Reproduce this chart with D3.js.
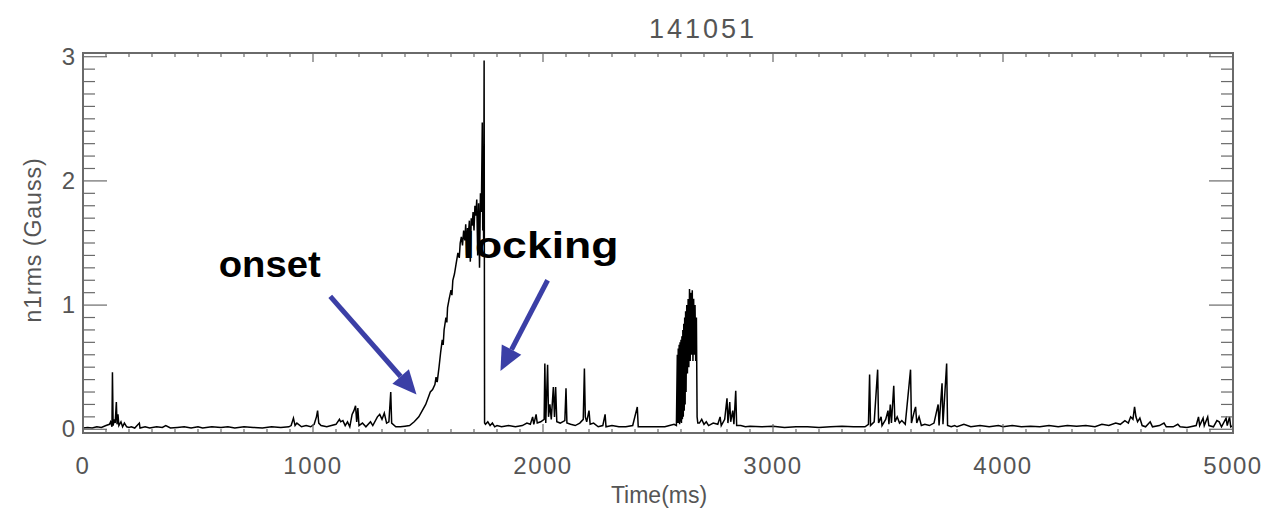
<!DOCTYPE html>
<html><head><meta charset="utf-8">
<script src="https://cdn.jsdelivr.net/npm/d3@7/dist/d3.min.js"></script>
<style>body{margin:0;background:#fff;} svg{display:block;}</style>
</head><body>
<svg id="c" width="1268" height="516"></svg>
<script>
const title = "141051";
const xLabel = "Time(ms)";
const yLabel = "n1rms (Gauss)";
const xTicks = [0, 1000, 2000, 3000, 4000, 5000];
const yTicks = [0, 1, 2, 3];

// [time ms, n1rms Gauss]
const segEarly = [[0,0.01],[20,0.015],[40,0.01],[60,0.02],[80,0.015],[100,0.03],[115,0.04],[120,0.06],[126,0.02],[128,0.46],[131,0.03],[135,0.08],[140,0.05],[145,0.22],[148,0.04],[152,0.12],[156,0.03],[165,0.06],[172,0.02],[180,0.05],[190,0.02],[200,0.015],[210,0.02],[225,0.01],[245,0.05],[248,0.01],[270,0.02],[290,0.01],[320,0.02],[345,0.015],[360,0.03],[380,0.01],[410,0.015],[440,0.02],[470,0.01],[500,0.02],[520,0.01],[560,0.02],[600,0.015],[630,0.02],[660,0.01],[700,0.02],[740,0.015],[780,0.01],[820,0.02],[860,0.015],[895,0.02],[905,0.03],[915,0.09],[922,0.03],[930,0.05],[950,0.02],[970,0.03],[990,0.02],[1005,0.04],[1015,0.1],[1020,0.15],[1025,0.05],[1035,0.03],[1060,0.02],[1080,0.03],[1100,0.04],[1115,0.08],[1120,0.06],[1130,0.07],[1140,0.03],[1150,0.06],[1160,0.02],[1170,0.12],[1178,0.15],[1185,0.19],[1190,0.06],[1195,0.17],[1200,0.03],[1215,0.05],[1230,0.02],[1250,0.06],[1260,0.03],[1280,0.1],[1290,0.12],[1300,0.08],[1310,0.13],[1320,0.05],[1330,0.06],[1338,0.3],[1342,0.05],[1360,0.02],[1380,0.02],[1400,0.025],[1420,0.03]];
const segOnset = [[1440,0.06],[1460,0.1],[1475,0.15],[1490,0.2],[1500,0.25],[1510,0.3],[1520,0.32],[1530,0.36],[1535,0.42],[1540,0.38],[1548,0.5],[1555,0.62],[1562,0.72],[1566,0.68],[1570,0.8],[1578,0.9],[1582,0.86],[1585,0.98],[1592,1.05],[1600,1.12],[1604,1.08],[1608,1.2],[1615,1.25],[1622,1.33],[1630,1.42],[1636,1.38],[1640,1.5],[1645,1.55],[1650,1.48],[1655,1.6],[1660,1.52],[1664,1.65],[1668,1.4],[1672,1.62],[1676,1.58],[1680,1.68],[1684,1.35],[1688,1.7],[1692,1.64],[1696,1.75],[1700,1.6],[1704,1.8],[1708,1.72],[1712,1.85],[1716,1.4],[1720,1.82],[1724,1.3],[1728,1.9],[1732,1.75],[1736,2.47],[1738,1.6],[1740,1.9],[1742,1.5],[1744,2.97],[1746,0.05]];
const segLocked = [[1750,0.04],[1760,0.06],[1770,0.03],[1780,0.05],[1790,0.02],[1800,0.03],[1820,0.02],[1850,0.03],[1880,0.02],[1910,0.03],[1930,0.05],[1945,0.04],[1955,0.1],[1960,0.04],[1970,0.12],[1975,0.05],[1990,0.06],[2005,0.08],[2008,0.53],[2012,0.05],[2020,0.52],[2024,0.1],[2030,0.2],[2036,0.08],[2045,0.34],[2050,0.1],[2055,0.34],[2060,0.06],[2075,0.05],[2095,0.07],[2100,0.33],[2104,0.05],[2120,0.04],[2140,0.03],[2160,0.05],[2175,0.08],[2180,0.49],[2184,0.1],[2190,0.06],[2200,0.15],[2205,0.04],[2220,0.05],[2240,0.02],[2260,0.03],[2270,0.12],[2274,0.02],[2300,0.03],[2330,0.02],[2360,0.02],[2390,0.03],[2410,0.18],[2414,0.02],[2440,0.02],[2470,0.02],[2500,0.02],[2530,0.02],[2550,0.03],[2570,0.04]];
const segHump = [[2580,0.03],[2584,0.6],[2586,0.05],[2588,0.65],[2590,0.05],[2592,0.68],[2594,0.04],[2596,0.7],[2598,0.06],[2600,0.72],[2602,0.05],[2604,0.75],[2606,0.08],[2608,0.8],[2610,0.1],[2612,0.85],[2614,0.15],[2616,0.9],[2618,0.2],[2620,0.95],[2622,0.3],[2625,1.0],[2628,0.45],[2631,1.05],[2634,0.5],[2637,1.13],[2640,0.55],[2643,1.1],[2646,0.6],[2649,1.12],[2652,0.55],[2655,1.05],[2658,0.6],[2661,1.0],[2664,0.55],[2667,0.9],[2670,0.1],[2673,0.05]];
const segLate = [[2680,0.05],[2690,0.08],[2700,0.04],[2710,0.06],[2720,0.03],[2740,0.05],[2760,0.04],[2770,0.1],[2775,0.03],[2790,0.08],[2800,0.25],[2804,0.05],[2812,0.22],[2816,0.06],[2825,0.15],[2830,0.04],[2838,0.31],[2842,0.03],[2860,0.03],[2880,0.02],[2900,0.025],[2950,0.02],[3000,0.025],[3050,0.015],[3100,0.02],[3150,0.02],[3200,0.015],[3250,0.02],[3300,0.025],[3350,0.02],[3400,0.02],[3415,0.04],[3420,0.44],[3424,0.03],[3440,0.06],[3455,0.48],[3459,0.05],[3470,0.1],[3474,0.03],[3490,0.08],[3500,0.15],[3504,0.04],[3510,0.2],[3515,0.05],[3525,0.35],[3530,0.06],[3540,0.1],[3550,0.05],[3560,0.07],[3575,0.04],[3598,0.48],[3602,0.05],[3615,0.15],[3620,0.18],[3625,0.05],[3635,0.1],[3645,0.03],[3660,0.04],[3680,0.03],[3700,0.05],[3718,0.2],[3722,0.03],[3735,0.37],[3739,0.04],[3755,0.53],[3759,0.03],[3775,0.02],[3790,0.03],[3800,0.02],[3830,0.04],[3860,0.02],[3900,0.03],[3940,0.02],[3980,0.03],[4000,0.02],[4040,0.03],[4080,0.02],[4120,0.025],[4160,0.02],[4200,0.03],[4240,0.02],[4280,0.03],[4320,0.025],[4360,0.03],[4400,0.02],[4430,0.04],[4460,0.03],[4490,0.05],[4510,0.04],[4530,0.07],[4545,0.05],[4555,0.1],[4565,0.08],[4572,0.18],[4578,0.1],[4585,0.06],[4595,0.09],[4605,0.03],[4620,0.02],[4640,0.06],[4650,0.02],[4680,0.03],[4700,0.05],[4710,0.02],[4740,0.02],[4760,0.04],[4770,0.02],[4800,0.015],[4840,0.03],[4850,0.1],[4855,0.03],[4870,0.09],[4875,0.03],[4890,0.1],[4895,0.03],[4915,0.02],[4930,0.07],[4940,0.06],[4950,0.02],[4970,0.09],[4975,0.03],[4985,0.1],[4990,0.02],[5000,0.03]];

const annotations = [
  {text: "onset", t: 590, v: 1.23, tipT: 1450, tipV: 0.28, tailT: 1075, tailV: 1.07},
  {text: "locking", t: 1650, v: 1.38, tipT: 1815, tipV: 0.47, tailT: 2020, tailV: 1.2}
];

const data = [].concat(segEarly, segOnset, segLocked, segHump, segLate);

const L = 83, R = 1233, T = 53, B = 433;
const x = d3.scaleLinear().domain([0, 5000]).range([L, R]);
const y = d3.scaleLinear().domain([-0.03, 3.03]).range([B, T]);
const svg = d3.select("#c");
const gray = "#6a6a6a";
const font = "'Liberation Sans', Arial, sans-serif";

// annotations text (behind the line)
svg.selectAll("text.ann").data(annotations).enter().append("text")
  .attr("class", "ann")
  .attr("x", d => x(d.t)).attr("y", d => y(d.v))
  .attr("font-family", font).attr("font-weight", "bold")
  .attr("font-size", 37).attr("fill", "#000")
  .attr("textLength", (d, i) => i === 0 ? 102 : 156).attr("lengthAdjust", "spacingAndGlyphs")
  .text(d => d.text);

// data line
svg.append("clipPath").attr("id", "clip").append("rect")
  .attr("x", L).attr("y", T).attr("width", R - L).attr("height", B - T);
svg.append("path").datum(data)
  .attr("clip-path", "url(#clip)")
  .attr("fill", "none").attr("stroke", "#000").attr("stroke-width", 1.5)
  .attr("stroke-linejoin", "miter")
  .attr("d", d3.line().x(d => x(d[0])).y(d => y(d[1])));

// arrows
const blue = "#3b3fa6";
annotations.forEach(a => {
  const x1 = x(a.tailT), y1 = y(a.tailV), x2 = x(a.tipT), y2 = y(a.tipV);
  const ang = Math.atan2(y2 - y1, x2 - x1);
  const hl = 24, hw = 11;
  const bx = x2 - hl * Math.cos(ang), by = y2 - hl * Math.sin(ang);
  svg.append("line").attr("x1", x1).attr("y1", y1).attr("x2", bx).attr("y2", by)
    .attr("stroke", blue).attr("stroke-width", 5);
  const px = -Math.sin(ang), py = Math.cos(ang);
  svg.append("path")
    .attr("d", `M${x2},${y2}L${bx + px * hw},${by + py * hw}L${bx - px * hw},${by - py * hw}Z`)
    .attr("fill", blue);
});

// frame
svg.append("rect").attr("x", L).attr("y", T).attr("width", R - L).attr("height", B - T)
  .attr("fill", "none").attr("stroke", gray).attr("stroke-width", 2);

// x ticks (bottom and top)
const xMinor = d3.range(0, 5001, 100);
[B, T].forEach((yy, k) => {
  const dir = k === 0 ? -1 : 1;
  svg.append("g").selectAll("line").data(xMinor).enter().append("line")
    .attr("x1", d => x(d)).attr("x2", d => x(d))
    .attr("y1", yy).attr("y2", d => yy + dir * (d % 1000 === 0 ? 9 : 4))
    .attr("stroke", gray).attr("stroke-width", 1.2);
});
// y ticks (left and right)
const yMinor = d3.range(0, 31).map(i => i / 10);
[L, R].forEach((xx, k) => {
  const dir = k === 0 ? 1 : -1;
  svg.append("g").selectAll("line").data(yMinor).enter().append("line")
    .attr("y1", d => y(d)).attr("y2", d => y(d))
    .attr("x1", xx).attr("x2", d => xx + dir * (Math.abs(d - Math.round(d)) < 1e-6 ? 24 : 12))
    .attr("stroke", gray).attr("stroke-width", 1.2);
});

// tick labels
svg.append("g").selectAll("text").data(xTicks).enter().append("text")
  .attr("x", d => x(d)).attr("y", 474)
  .attr("text-anchor", "middle").attr("font-family", font).attr("font-size", 24)
  .attr("letter-spacing", 1.5).attr("fill", "#555").text(d => d);
svg.append("g").selectAll("text").data(yTicks).enter().append("text")
  .attr("x", 75).attr("y", d => y(d) + 8)
  .attr("text-anchor", "end").attr("font-family", font).attr("font-size", 24)
  .attr("fill", "#555").text(d => d);

// axis titles
svg.append("text").attr("x", 659).attr("y", 503).attr("text-anchor", "middle")
  .attr("font-family", font).attr("font-size", 23).attr("fill", "#555").text(xLabel);
svg.append("text").attr("transform", "translate(41,240) rotate(-90)").attr("text-anchor", "middle")
  .attr("font-family", font).attr("font-size", 23).attr("fill", "#555")
  .attr("letter-spacing", 1).text(yLabel);
svg.append("text").attr("x", 703).attr("y", 38).attr("text-anchor", "middle")
  .attr("font-family", font).attr("font-size", 27).attr("letter-spacing", 3)
  .attr("fill", "#555").text(title);
</script>
</body></html>
